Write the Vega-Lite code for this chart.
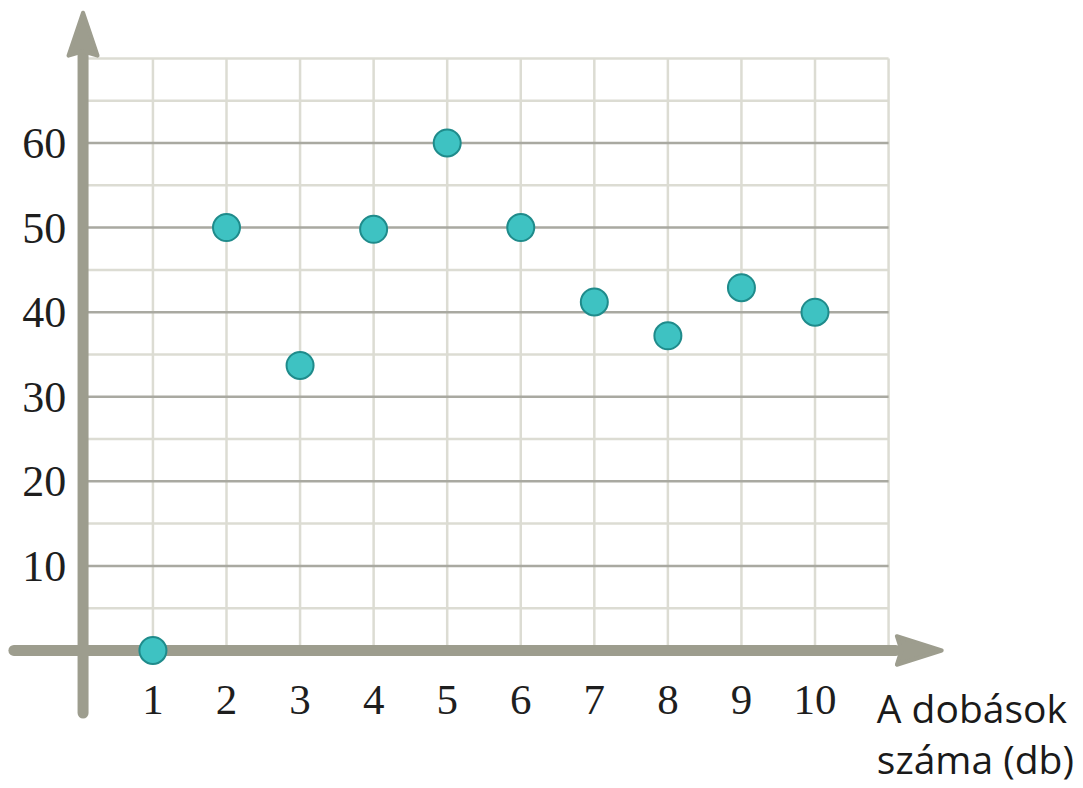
{
  "$schema": "https://vega.github.io/schema/vega-lite/v6.json",
  "width": 1083,
  "height": 788,
  "padding": 0,
  "autosize": {"type": "none"},
  "background": "white",
  "config": {"view": {"stroke": null}},
  "datasets": {
    "points": [
      {"dobas": 1, "ertek": 0},
      {"dobas": 2, "ertek": 50},
      {"dobas": 3, "ertek": 33.7},
      {"dobas": 4, "ertek": 49.8},
      {"dobas": 5, "ertek": 60},
      {"dobas": 6, "ertek": 50},
      {"dobas": 7, "ertek": 41.2},
      {"dobas": 8, "ertek": 37.2},
      {"dobas": 9, "ertek": 42.9},
      {"dobas": 10, "ertek": 40}
    ],
    "minorH": [{"g": 5}, {"g": 15}, {"g": 25}, {"g": 35}, {"g": 45}, {"g": 55}, {"g": 65}, {"g": 70}],
    "majorH": [{"g": 10}, {"g": 20}, {"g": 30}, {"g": 40}, {"g": 50}, {"g": 60}],
    "gridV": [{"g": 1}, {"g": 2}, {"g": 3}, {"g": 4}, {"g": 5}, {"g": 6}, {"g": 7}, {"g": 8}, {"g": 9}, {"g": 10}, {"g": 11}],
    "yLabels": [{"v": 10}, {"v": 20}, {"v": 30}, {"v": 40}, {"v": 50}, {"v": 60}],
    "xLabels": [{"v": 1}, {"v": 2}, {"v": 3}, {"v": 4}, {"v": 5}, {"v": 6}, {"v": 7}, {"v": 8}, {"v": 9}, {"v": 10}],
    "one": [{"t": "A dobások\nszáma (db)"}]
  },
  "layer": [
    {
      "data": {"name": "minorH"},
      "mark": {"type": "rule", "color": "#dcdcd3", "strokeWidth": 2.5},
      "encoding": {
        "y": {"field": "g", "type": "quantitative", "scale": {"domain": [-16.26, 76.91], "nice": false, "zero": false}, "axis": null},
        "x": {"datum": 0, "scale": {"domain": [-1.079, 13.643], "nice": false, "zero": false}, "axis": null},
        "x2": {"datum": 11}
      }
    },
    {
      "data": {"name": "gridV"},
      "mark": {"type": "rule", "color": "#dcdcd3", "strokeWidth": 2.5},
      "encoding": {
        "x": {"field": "g", "type": "quantitative", "scale": {"domain": [-1.079, 13.643], "nice": false, "zero": false}, "axis": null},
        "y": {"datum": 0, "scale": {"domain": [-16.26, 76.91], "nice": false, "zero": false}, "axis": null},
        "y2": {"datum": 70}
      }
    },
    {
      "data": {"name": "majorH"},
      "mark": {"type": "rule", "color": "#a9a9a1", "strokeWidth": 2.5},
      "encoding": {
        "y": {"field": "g", "type": "quantitative", "scale": {"domain": [-16.26, 76.91], "nice": false, "zero": false}, "axis": null},
        "x": {"datum": 0, "scale": {"domain": [-1.079, 13.643], "nice": false, "zero": false}, "axis": null},
        "x2": {"datum": 11}
      }
    },
    {
      "data": {"name": "one"},
      "mark": {"type": "rule", "color": "#9d9d8e", "strokeWidth": 11, "strokeCap": "round"},
      "encoding": {
        "y": {"datum": 0, "scale": {"domain": [-16.26, 76.91], "nice": false, "zero": false}, "axis": null},
        "x": {"datum": -0.89, "scale": {"domain": [-1.079, 13.643], "nice": false, "zero": false}, "axis": null},
        "x2": {"datum": 11.1}
      }
    },
    {
      "data": {"name": "one"},
      "mark": {"type": "rule", "color": "#9d9d8e", "strokeWidth": 11, "strokeCap": "round"},
      "encoding": {
        "x": {"datum": 0.05, "scale": {"domain": [-1.079, 13.643], "nice": false, "zero": false}, "axis": null},
        "y": {"datum": -7.4, "scale": {"domain": [-16.26, 76.91], "nice": false, "zero": false}, "axis": null},
        "y2": {"datum": 70.5}
      }
    },
    {
      "data": {"name": "one"},
      "mark": {"type": "point", "shape": "M0,-1 L0.66,0.95 L0,0.75 L-0.66,0.95 Z", "size": 1936, "filled": true, "fill": "#9d9d8e", "stroke": "#9d9d8e", "strokeWidth": 4, "strokeJoin": "round", "opacity": 1},
      "encoding": {
        "x": {"datum": 0.05, "scale": {"domain": [-1.079, 13.643], "nice": false, "zero": false}, "axis": null},
        "y": {"datum": 72.8, "scale": {"domain": [-16.26, 76.91], "nice": false, "zero": false}, "axis": null}
      }
    },
    {
      "data": {"name": "one"},
      "mark": {"type": "point", "shape": "M1,0 L-0.95,-0.62 L-0.75,0 L-0.95,0.62 Z", "size": 2116, "filled": true, "fill": "#9d9d8e", "stroke": "#9d9d8e", "strokeWidth": 4, "strokeJoin": "round", "opacity": 1},
      "encoding": {
        "x": {"datum": 11.41, "scale": {"domain": [-1.079, 13.643], "nice": false, "zero": false}, "axis": null},
        "y": {"datum": 0, "scale": {"domain": [-16.26, 76.91], "nice": false, "zero": false}, "axis": null}
      }
    },
    {
      "data": {"name": "points"},
      "mark": {"type": "point", "shape": "circle", "size": 729, "filled": true, "fill": "#3ec2c2", "stroke": "#1f8b8b", "strokeWidth": 2, "opacity": 1},
      "encoding": {
        "x": {"field": "dobas", "type": "quantitative", "scale": {"domain": [-1.079, 13.643], "nice": false, "zero": false}, "axis": null},
        "y": {"field": "ertek", "type": "quantitative", "scale": {"domain": [-16.26, 76.91], "nice": false, "zero": false}, "axis": null}
      }
    },
    {
      "data": {"name": "yLabels"},
      "mark": {"type": "text", "font": "Liberation Serif", "fontSize": 44, "color": "#1e1e1e", "align": "right", "baseline": "middle", "dy": 2},
      "encoding": {
        "y": {"field": "v", "type": "quantitative", "scale": {"domain": [-16.26, 76.91], "nice": false, "zero": false}, "axis": null},
        "x": {"datum": -0.18, "scale": {"domain": [-1.079, 13.643], "nice": false, "zero": false}, "axis": null},
        "text": {"field": "v", "type": "nominal"}
      }
    },
    {
      "data": {"name": "xLabels"},
      "mark": {"type": "text", "font": "Liberation Serif", "fontSize": 43, "color": "#1e1e1e", "align": "center", "baseline": "alphabetic"},
      "encoding": {
        "x": {"field": "v", "type": "quantitative", "scale": {"domain": [-1.079, 13.643], "nice": false, "zero": false}, "axis": null},
        "y": {"datum": -7.5, "scale": {"domain": [-16.26, 76.91], "nice": false, "zero": false}, "axis": null},
        "text": {"field": "v", "type": "nominal"}
      }
    },
    {
      "data": {"name": "one"},
      "mark": {"type": "text", "font": "Open Sans", "fontSize": 39, "color": "#1a1a1a", "align": "left", "baseline": "alphabetic", "lineBreak": "\n", "lineHeight": 51},
      "encoding": {
        "x": {"datum": 10.84, "scale": {"domain": [-1.079, 13.643], "nice": false, "zero": false}, "axis": null},
        "y": {"datum": -8.57, "scale": {"domain": [-16.26, 76.91], "nice": false, "zero": false}, "axis": null},
        "text": {"field": "t", "type": "nominal"}
      }
    }
  ]
}
